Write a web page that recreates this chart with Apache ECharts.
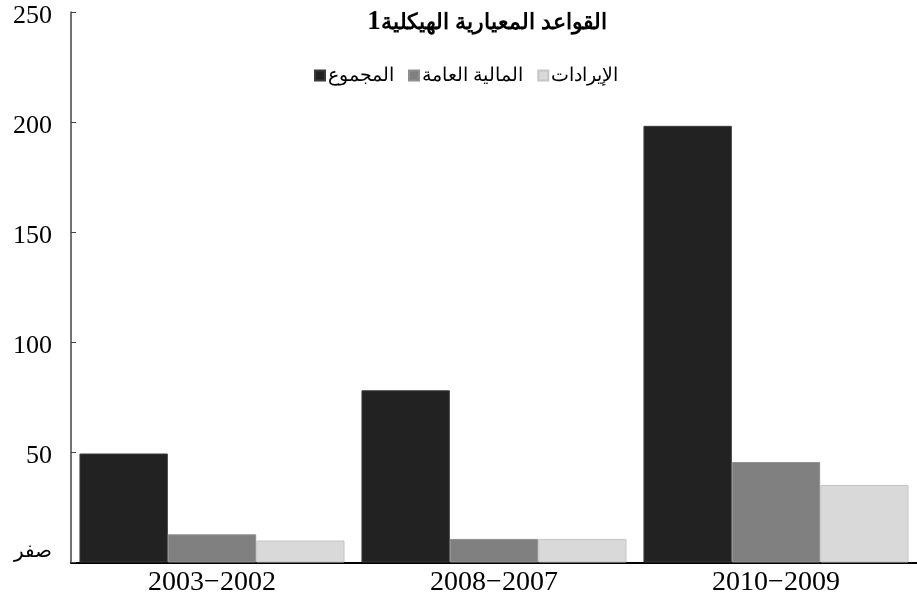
<!DOCTYPE html>
<html>
<head>
<meta charset="utf-8">
<script src="https://cdn.jsdelivr.net/npm/echarts@6/dist/echarts.min.js"></script>
<style>html,body{margin:0;padding:0;background:#fff;}#c{width:917px;height:601px;}</style>
</head>
<body>
<div id="c"></div>
<script>
var categories = ['2003−2002', '2008−2007', '2010−2009'];
var seriesNames = ['المجموع', 'المالية العامة', 'الإيرادات'];
var totalValues = [49.5, 78.2, 198.3];
var publicFinanceValues = [12.8, 10.7, 45.6];
var revenueValues = [10.0, 10.7, 35.2];
var yTickLabels = {0: 'صفر', 50: '50', 100: '100', 150: '150', 200: '200', 250: '250'};
var titleText = 'القواعد المعيارية الهيكلية';
var titleNote = '1';

var colors = ['#222222', '#808080', '#d9d9d9'];
var borders = ['#3a3a3a', '#8f8f8f', '#c6c6c6'];
var dataSets = [totalValues, publicFinanceValues, revenueValues];

var chart = echarts.init(document.getElementById('c'));
chart.setOption({
  animation: false,
  backgroundColor: '#ffffff',
  title: {
    text: '{n|' + titleNote + '}{t|' + titleText + '}',
    left: 482, textAlign: 'center', top: 4,
    textStyle: {
      rich: {
        t: {fontFamily: 'Liberation Sans', fontWeight: 'bold', fontSize: 22, color: '#000'},
        n: {fontFamily: 'Liberation Serif', fontWeight: 'bold', fontSize: 27, color: '#000'}
      }
    }
  },
  legend: {
    top: 61, left: 309,
    icon: 'rect', itemWidth: 10, itemHeight: 10, itemGap: 14,
    textStyle: {fontFamily: 'Liberation Sans', fontSize: 19, color: '#000', padding: [0, 0, 0, -2]},
    data: seriesNames
  },
  grid: {left: 71, right: -3, top: 12, bottom: 38.5, containLabel: false},
  xAxis: {
    type: 'category', data: categories,
    axisLine: {lineStyle: {color: '#000', width: 2}},
    axisTick: {inside: true, length: 5, lineStyle: {color: '#333'}},
    axisLabel: {fontFamily: 'Liberation Serif', fontSize: 28, color: '#000', margin: 6}
  },
  yAxis: {
    type: 'value', min: 0, max: 250, interval: 50,
    axisLine: {show: true, lineStyle: {color: '#444', width: 1.5}},
    axisTick: {show: true, inside: true, length: 5, lineStyle: {color: '#444'}},
    splitLine: {show: false},
    axisLabel: {
      color: '#000', margin: 19,
      formatter: function (v) {
        var s = yTickLabels[v] !== undefined ? yTickLabels[v] : String(v);
        return v === 0 ? '{z|' + s + '}' : '{d|' + s + '}';
      },
      rich: {
        d: {fontFamily: 'Liberation Serif', fontSize: 26, color: '#000', padding: [8, 0, 0, 0]},
        z: {fontFamily: 'Liberation Sans', fontSize: 20, color: '#000', padding: [0, 0, 22, 0]}
      }
    }
  },
  series: seriesNames.map(function (name, i) {
    return {
      name: name, type: 'bar', data: dataSets[i],
      barGap: '0%', barCategoryGap: '6%',
      itemStyle: {color: colors[i], borderColor: borders[i], borderWidth: 1}
    };
  })
});
</script>
</body>
</html>
